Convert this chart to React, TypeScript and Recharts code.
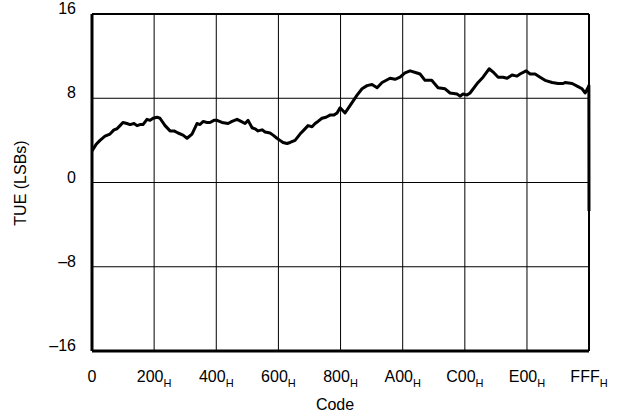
import { LineChart, Line, XAxis, YAxis, CartesianGrid, ReferenceLine } from "recharts";

// codes (decimal) and TUE readings in LSBs
const CODES = [
  0, 33, 66, 107, 148, 181, 206, 231, 255, 288, 313, 346, 371, 396, 420, 453, 478, 503, 536, 560,
  602, 643, 676, 709, 750, 783, 824, 865, 890, 915, 948, 972, 1005, 1030, 1071, 1121, 1154, 1195,
  1228, 1261, 1286, 1319, 1343, 1368, 1401, 1426, 1467, 1492, 1524, 1549, 1574, 1607, 1632, 1673,
  1714, 1747, 1780, 1813, 1838, 1862, 1895, 1928, 1961, 1994, 2019, 2044, 2085, 2126, 2184, 2225,
  2266, 2307, 2349, 2390, 2456, 2497, 2538, 2579, 2621, 2678, 2703, 2744, 2799, 2851, 2909, 2950,
  3008, 3032, 3057, 3090, 3115, 3181, 3222, 3272, 3313, 3346, 3387, 3420, 3461, 3502, 3527, 3577,
  3610, 3651, 3692, 3733, 3791, 3840, 3882, 3898, 3956, 4005, 4038, 4063, 4087, 4094, 4095,
];
const TUE = [
  3.0, 3.6, 4.0, 4.4, 4.6, 5.0, 5.1, 5.4, 5.7, 5.6, 5.5, 5.6, 5.4, 5.5, 5.5, 6.0, 5.9, 6.1, 6.2, 6.1,
  5.4, 4.9, 4.9, 4.7, 4.5, 4.2, 4.6, 5.6, 5.5, 5.8, 5.7, 5.7, 5.9, 5.9, 5.7, 5.6, 5.8, 6.0,
  5.8, 5.6, 5.9, 5.2, 5.1, 4.9, 5.0, 4.8, 4.7, 4.5, 4.2, 4.0, 3.8, 3.7, 3.8, 4.0,
  4.6, 5.0, 5.4, 5.3, 5.6, 5.8, 6.1, 6.2, 6.4, 6.4, 6.6, 7.1, 6.6, 7.3, 8.3, 8.9,
  9.2, 9.3, 9.0, 9.5, 9.9, 9.8, 10.0, 10.4, 10.6, 10.4, 10.3, 9.7, 9.7, 9.0, 8.9, 8.5,
  8.4, 8.2, 8.4, 8.3, 8.5, 9.5, 10.0, 10.8, 10.4, 10.0, 10.0, 9.9, 10.2, 10.1, 10.3, 10.6,
  10.3, 10.3, 10.0, 9.7, 9.5, 9.4, 9.4, 9.5, 9.4, 9.1, 8.9, 8.5, 9.0, 9.2, -2.7,
];

const X_TICKS = [0, 512, 1024, 1536, 2048, 2560, 3072, 3584, 4095];
const X_LABELS = ["0", "200", "400", "600", "800", "A00", "C00", "E00", "FFF"];
const Y_TICKS = [-16, -8, 0, 8, 16];

const data = CODES.map((c, i) => ({ code: c, tue: TUE[i] }));

const FONT = "Liberation Sans, Arial, sans-serif";

function XTick({ x, y, payload }: any) {
  const i = X_TICKS.indexOf(payload.value);
  const label = X_LABELS[i] ?? "";
  return (
    <text x={x} y={y + 29} textAnchor="middle" fontFamily={FONT} fontSize={16} fill="#000">
      <tspan>{label}</tspan>
      {label !== "0" && (
        <tspan fontSize={11} dy={5}>
          H
        </tspan>
      )}
    </text>
  );
}

function YTick({ x, y, payload }: any) {
  const v = payload.value;
  const s = v < 0 ? `\u2013${Math.abs(v)}` : String(v);
  return (
    <text x={x} y={y} textAnchor="end" fontFamily={FONT} fontSize={16} fill="#000">
      {s}
    </text>
  );
}

export default function App() {
  return (
    <div style={{ position: "absolute", left: 0, top: 0, width: 617, height: 417, background: "#fff" }}>
      <LineChart width={617} height={417} data={data} margin={{ top: 14, right: 28, bottom: 36, left: 32 }}>
        <CartesianGrid stroke="#000" strokeWidth={1} />
        <XAxis
          dataKey="code"
          type="number"
          domain={[0, 4095]}
          ticks={X_TICKS}
          tick={<XTick />}
          tickLine={false}
          tickSize={0}
          height={30}
          axisLine={{ stroke: "#000", strokeWidth: 3 }}
        />
        <YAxis
          type="number"
          domain={[-16, 16]}
          ticks={Y_TICKS}
          tick={<YTick />}
          tickLine={false}
          tickSize={0}
          tickMargin={16}
          width={60}
          axisLine={{ stroke: "#000", strokeWidth: 3 }}
        />
        <ReferenceLine y={16} stroke="#000" strokeWidth={2} />
        <ReferenceLine x={4095} stroke="#000" strokeWidth={2} />
        <Line
          type="linear"
          dataKey="tue"
          stroke="#000"
          strokeWidth={3}
          strokeLinejoin="round"
          dot={false}
          isAnimationActive={false}
        />
      </LineChart>
      <svg width={617} height={417} style={{ position: "absolute", left: 0, top: 0, pointerEvents: "none" }}>
        <text x={335} y={410} textAnchor="middle" fontFamily={FONT} fontSize={16} fill="#000">
          Code
        </text>
        <text
          x={26}
          y={183}
          textAnchor="middle"
          fontFamily={FONT}
          fontSize={16}
          fill="#000"
          transform="rotate(-90 26 183)"
        >
          TUE (LSBs)
        </text>
      </svg>
    </div>
  );
}
